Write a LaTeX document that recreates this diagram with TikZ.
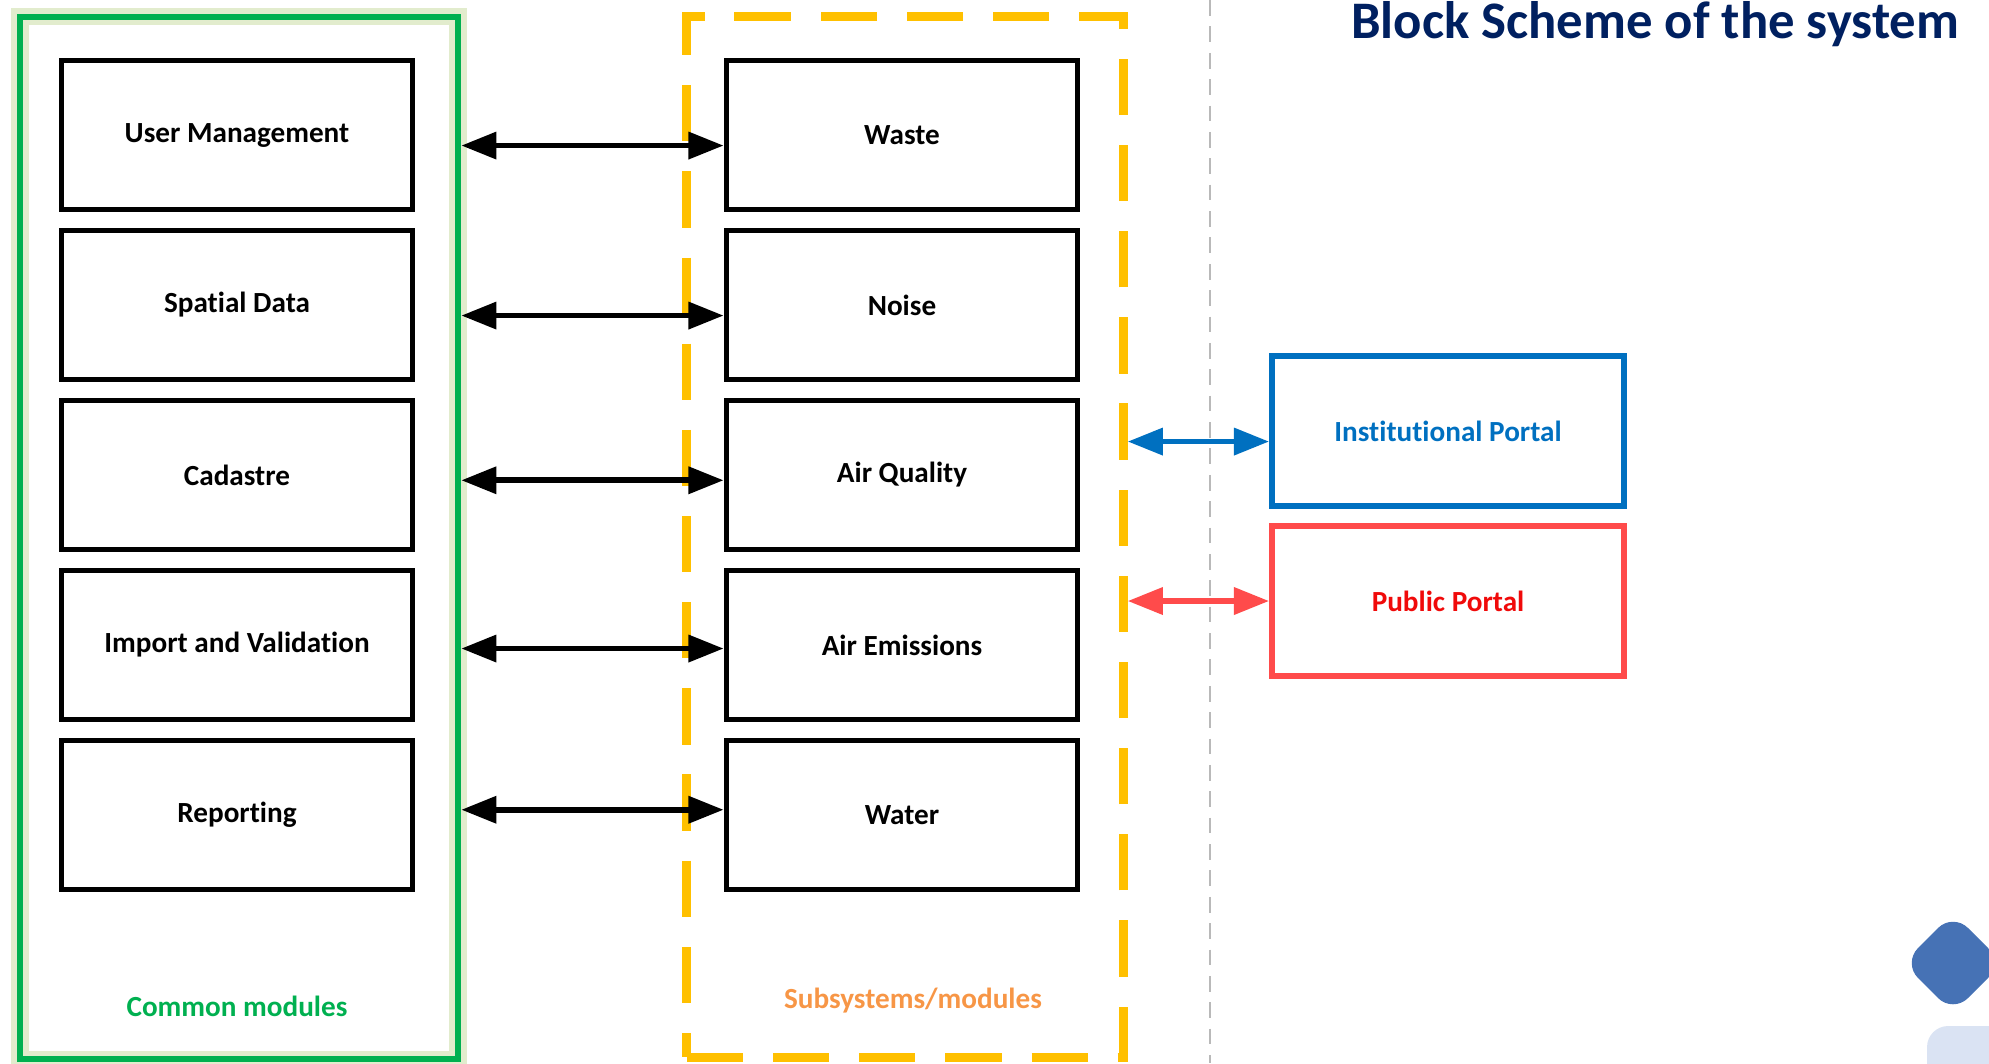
\documentclass[tikz,border=0pt]{standalone}
\usepackage{fontspec}
\setmainfont{Carlito}[Ligatures=NoCommon]
\usetikzlibrary{arrows.meta}
\definecolor{verde}{RGB}{0,176,80}
\definecolor{alone}{RGB}{226,236,205}
\definecolor{arancio}{RGB}{255,192,0}
\definecolor{arancioTesto}{RGB}{247,150,70}
\definecolor{blu}{RGB}{0,112,192}
\definecolor{rosso}{RGB}{255,75,75}
\definecolor{rossoTesto}{RGB}{240,10,10}
\definecolor{titolo}{RGB}{0,32,96}
\definecolor{diamante}{RGB}{70,114,181}
\definecolor{azzurrino}{RGB}{218,227,243}
\tikzset{
  modulo/.style={draw, line width=1.6pt, minimum width=3.51cm, minimum height=1.49cm, font=\bfseries\fontsize{8.3}{10}\selectfont},
  portale/.style={modulo, minimum width=3.52cm, minimum height=1.50cm},
  etichetta/.style={font=\bfseries\fontsize{8.3}{10}\selectfont},
  freccia/.style={line width=1.6pt, {Triangle[length=10pt,width=7.5pt]}-{Triangle[length=10pt,width=7.5pt]}}
}
\begin{document}
\begin{tikzpicture}[x=0.01cm, y=-0.01cm]
  \useasboundingbox (0,0) rectangle (1989,1063);
  %cornici
  \node[draw=verde, line width=1.8pt, preaction={draw=alone, line width=5pt},
        minimum width=4.38cm, minimum height=10.42cm] (comuni) at (239,538) {};
  \node[draw=arancio, line width=2.6pt, dash pattern=on 16pt off 8.5pt,
        minimum width=4.36cm, minimum height=10.40cm] (sub) at (905,537) {};
  \draw[gray!55, line width=0.6pt, dash pattern=on 4.5pt off 3pt] (1210,0) -- (1210,1063);
  %moduli comuni
  \node[modulo] (utenti) at (237,135) {User Management};
  \node[modulo] (spaziali) at (237,305) {Spatial Data};
  \node[modulo] (catasto) at (237,475) {Cadastre};
  \node[modulo] (import) at (237,645) {Import and Validation};
  \node[modulo] (report) at (237,815) {Reporting};
  %sottosistemi
  \node[modulo] (rifiuti) at (902,135) {Waste};
  \node[modulo] (rumore) at (902,305) {Noise};
  \node[modulo] (aria) at (902,475) {Air Quality};
  \node[modulo] (emissioni) at (902,645) {Air Emissions};
  \node[modulo] (acqua) at (902,815) {Water};
  %portali
  \node[portale, draw=blu, text=blu] (ist) at (1448,431) {Institutional Portal};
  \node[portale, draw=rosso, text=rossoTesto] (pub) at (1448,601) {Public Portal};
  %frecce
  \draw[freccia] ([yshift=-3pt]utenti.east -| comuni.east) -- ([yshift=-3pt]rifiuti.west);
  \draw[freccia] ([yshift=-3pt]spaziali.east -| comuni.east) -- ([yshift=-3pt]rumore.west);
  \draw[freccia] ([yshift=-1.5pt]catasto.east -| comuni.east) -- ([yshift=-1.5pt]aria.west);
  \draw[freccia] ([yshift=-1pt]import.east -| comuni.east) -- ([yshift=-1pt]emissioni.west);
  \draw[freccia] ([yshift=1.5pt]report.east -| comuni.east) -- ([yshift=1.5pt]acqua.west);
  \draw[freccia, blu] ([yshift=-3pt]ist.west -| sub.east) -- ([yshift=-3pt]ist.west);
  \draw[freccia, rosso] (pub.west -| sub.east) -- (pub.west);
  %etichette
  \node[etichetta, text=verde] (lcomuni) at (237,1006) {Common modules};
  \node[etichetta, text=arancioTesto] (lsub) at (913,1001) {Subsystems/modules};
  \node[anchor=base east, inner sep=0pt, font=\bfseries\fontsize{15}{18}\selectfont, text=titolo] (tit) at (1960,38) {Block Scheme of the system};
  %decorazioni
  \fill[diamante, rounded corners=6pt] (1953,913) -- (2003,963) -- (1953,1013) -- (1903,963) -- cycle;
  \fill[azzurrino, rounded corners=6pt] (1927,1026) rectangle (2040,1100);
\end{tikzpicture}
\end{document}
